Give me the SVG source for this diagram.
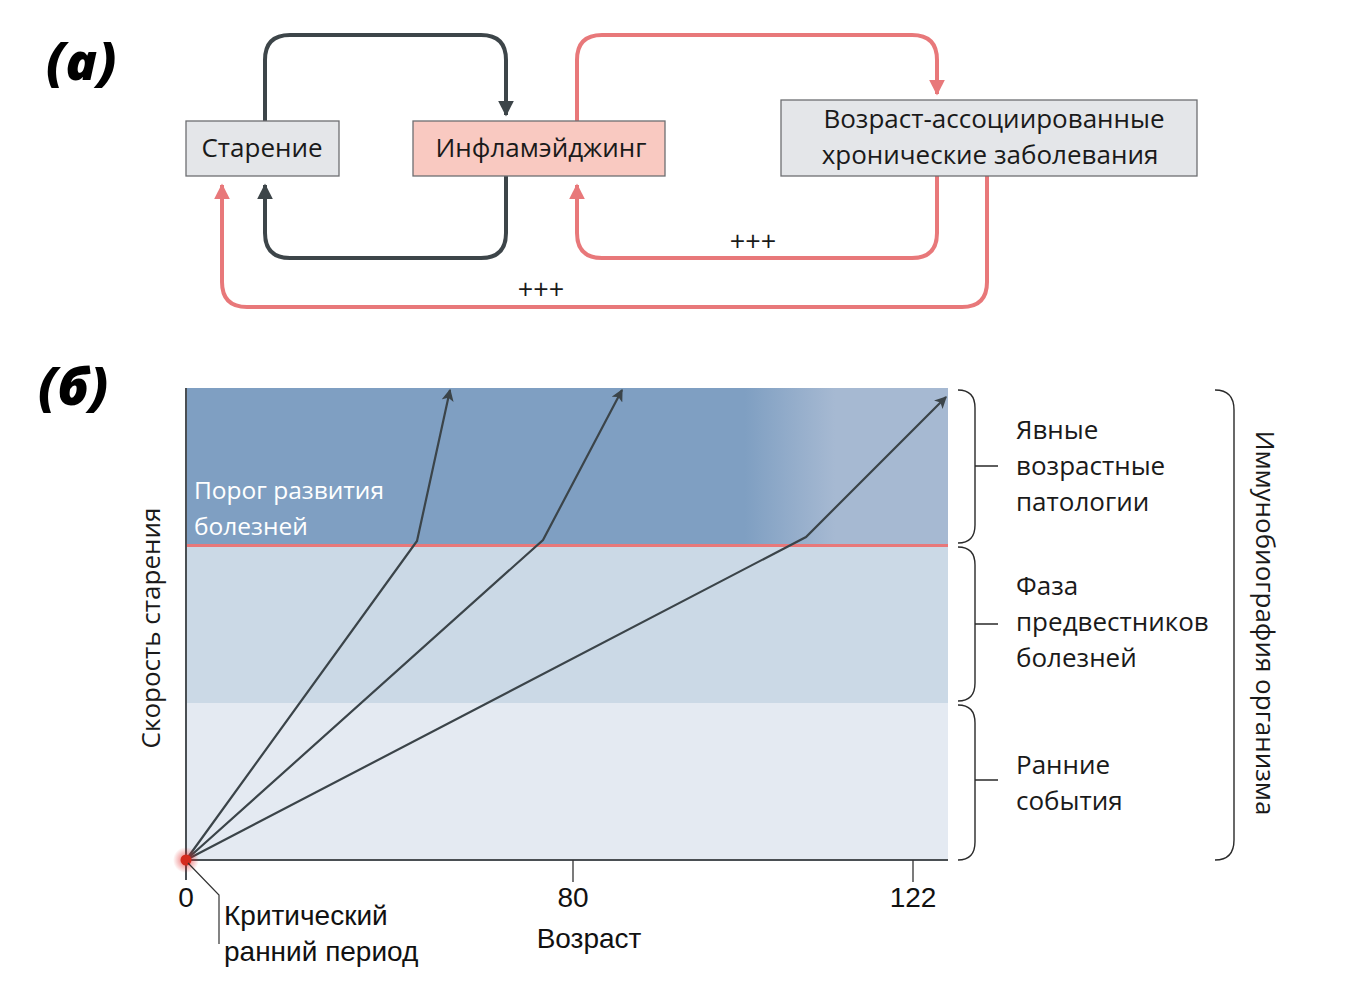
<svg xmlns="http://www.w3.org/2000/svg" width="1352" height="1000" viewBox="0 0 1352 1000">
<style>
.box{stroke:#6d6f72;stroke-width:1.3}
.gray{fill:#e4e6e9}
.pink{fill:#f9c9c1}
.t{font-family:"Open Sans","DejaVu Sans",sans-serif;font-size:26px;fill:#1a1a1a}
.dk{fill:none;stroke:#3d4549;stroke-width:4}
.pk{fill:none;stroke:#e8787a;stroke-width:4}
.ln{fill:none;stroke:#3b4449;stroke-width:2.2}
.br{fill:none;stroke:#2a2a2a;stroke-width:1.4}
.num{font-family:"Liberation Sans Narrow","Liberation Sans",sans-serif;font-size:28px;fill:#111}
.lbl{font-family:"Open Sans","DejaVu Sans",sans-serif;font-weight:800;font-style:italic;font-size:52px;fill:#000}
</style>
<defs>
<marker id="ad" viewBox="0 0 10 10" refX="9" refY="5" markerWidth="4" markerHeight="4" orient="auto" markerUnits="strokeWidth"><path d="M0,0 L10,5 L0,10 Z" fill="#3d4549"/></marker>
<marker id="ap" viewBox="0 0 10 10" refX="9" refY="5" markerWidth="4" markerHeight="4" orient="auto" markerUnits="strokeWidth"><path d="M0,0 L10,5 L0,10 Z" fill="#e8787a"/></marker>
<marker id="al" viewBox="0 0 10 10" refX="9" refY="5" markerWidth="5.5" markerHeight="5.5" orient="auto" markerUnits="strokeWidth"><path d="M0,0 L10,5 L0,10 L2.5,5 Z" fill="#3b4449"/></marker>
<linearGradient id="topg" gradientUnits="userSpaceOnUse" x1="745" y1="0" x2="835" y2="0">
<stop offset="0" stop-color="#7f9fc2"/><stop offset="1" stop-color="#a6b9d2"/>
</linearGradient>
<radialGradient id="glow"><stop offset="0" stop-color="#e02020" stop-opacity="0.7"/><stop offset="1" stop-color="#e02020" stop-opacity="0"/></radialGradient>
</defs>
<rect width="1352" height="1000" fill="#fff"/>

<text class="lbl" x="46" y="80">(a)</text>
<text class="lbl" x="38" y="405">(б)</text>

<g id="connectors">
<path class="dk" d="M265,121 V60 Q265,35 290,35 H481 Q506,35 506,60 V115" marker-end="url(#ad)"/>
<path class="dk" d="M506,176 V233 Q506,258 481,258 H290 Q265,258 265,233 V185" marker-end="url(#ad)"/>
<path class="pk" d="M577,121 V60 Q577,35 602,35 H912 Q937,35 937,60 V94" marker-end="url(#ap)"/>
<path class="pk" d="M937,176 V233 Q937,258 912,258 H602 Q577,258 577,233 V185" marker-end="url(#ap)"/>
<path class="pk" d="M987,176 V282 Q987,307 962,307 H247 Q222,307 222,282 V185" marker-end="url(#ap)"/>
<text class="t" x="753" y="251" text-anchor="middle" style="font-size:27px">+++</text>
<text class="t" x="541" y="299" text-anchor="middle" style="font-size:27px">+++</text>
</g>

<g id="node-aging">
<rect class="box gray" x="186" y="121" width="153" height="55"/>
<text class="t" x="262" y="157" text-anchor="middle">Старение</text>
</g>
<g id="node-inflammaging">
<rect class="box pink" x="413" y="121" width="252" height="55"/>
<text class="t" x="541" y="157" text-anchor="middle">Инфламэйджинг</text>
</g>
<g id="node-diseases">
<rect class="box gray" x="781" y="100" width="416" height="76"/>
<text class="t" x="994" y="128" text-anchor="middle">Возраст-ассоциированные</text>
<text class="t" x="990" y="164" text-anchor="middle">хронические заболевания</text>
</g>

<g id="chart">
<rect x="186" y="388" width="762" height="157" fill="url(#topg)"/>
<rect x="186" y="545" width="762" height="158" fill="#cbd9e6"/>
<rect x="186" y="703" width="762" height="157" fill="#e4eaf2"/>
<line x1="186" y1="545.5" x2="948" y2="545.5" stroke="#e8787a" stroke-width="3"/>
<path d="M186,388 V880 M186,860 H948" fill="none" stroke="#4a4f53" stroke-width="2"/>
<line x1="573" y1="860" x2="573" y2="882" stroke="#333" stroke-width="1.3"/>
<line x1="913" y1="860" x2="913" y2="882" stroke="#333" stroke-width="1.3"/>
<text fill="#fff" x="194" y="499" style="font-family:'Open Sans','DejaVu Sans',sans-serif;font-size:24.5px">Порог развития</text>
<text fill="#fff" x="194" y="535" style="font-family:'Open Sans','DejaVu Sans',sans-serif;font-size:24.5px">болезней</text>
<path class="ln" d="M186,860 L417,541 L450,390" marker-end="url(#al)"/>
<path class="ln" d="M186,860 L543,540 L622,390" marker-end="url(#al)"/>
<path class="ln" d="M186,860 L806,537 L946,397" marker-end="url(#al)"/>
<circle cx="186" cy="860" r="13" fill="url(#glow)"/>
<circle cx="186" cy="860" r="5.5" fill="#d42a1e"/>
<path d="M188,863 L219,895 V944" fill="none" stroke="#333" stroke-width="1.2"/>
<text class="num" x="186" y="907" text-anchor="middle">0</text>
<text class="num" x="573" y="907" text-anchor="middle">80</text>
<text class="num" x="913" y="907" text-anchor="middle">122</text>
<text class="num" x="224" y="925">Критический</text>
<text class="num" x="224" y="961">ранний период</text>
<text class="num" x="589" y="948" text-anchor="middle">Возраст</text>
<text class="t" transform="translate(160,628) rotate(-90)" text-anchor="middle">Скорость старения</text>
</g>

<g id="braces">
<path class="br" d="M958,390 Q975,390 975,408 V525 Q975,543 958,543 M975,466 H998"/>
<path class="br" d="M958,547 Q975,547 975,565 V683 Q975,701 958,701 M975,624 H998"/>
<path class="br" d="M958,705 Q975,705 975,723 V842 Q975,860 958,860 M975,780 H998"/>
<path class="br" d="M1215,390 Q1234,390 1234,410 V840 Q1234,860 1215,860"/>
<text class="t" x="1016" y="439">Явные</text>
<text class="t" x="1016" y="475">возрастные</text>
<text class="t" x="1016" y="511">патологии</text>
<text class="t" x="1016" y="595">Фаза</text>
<text class="t" x="1016" y="631">предвестников</text>
<text class="t" x="1016" y="667">болезней</text>
<text class="t" x="1016" y="774">Ранние</text>
<text class="t" x="1016" y="810">события</text>
<text class="t" transform="translate(1256,623) rotate(90)" text-anchor="middle">Иммунобиография организма</text>
</g>
</svg>
